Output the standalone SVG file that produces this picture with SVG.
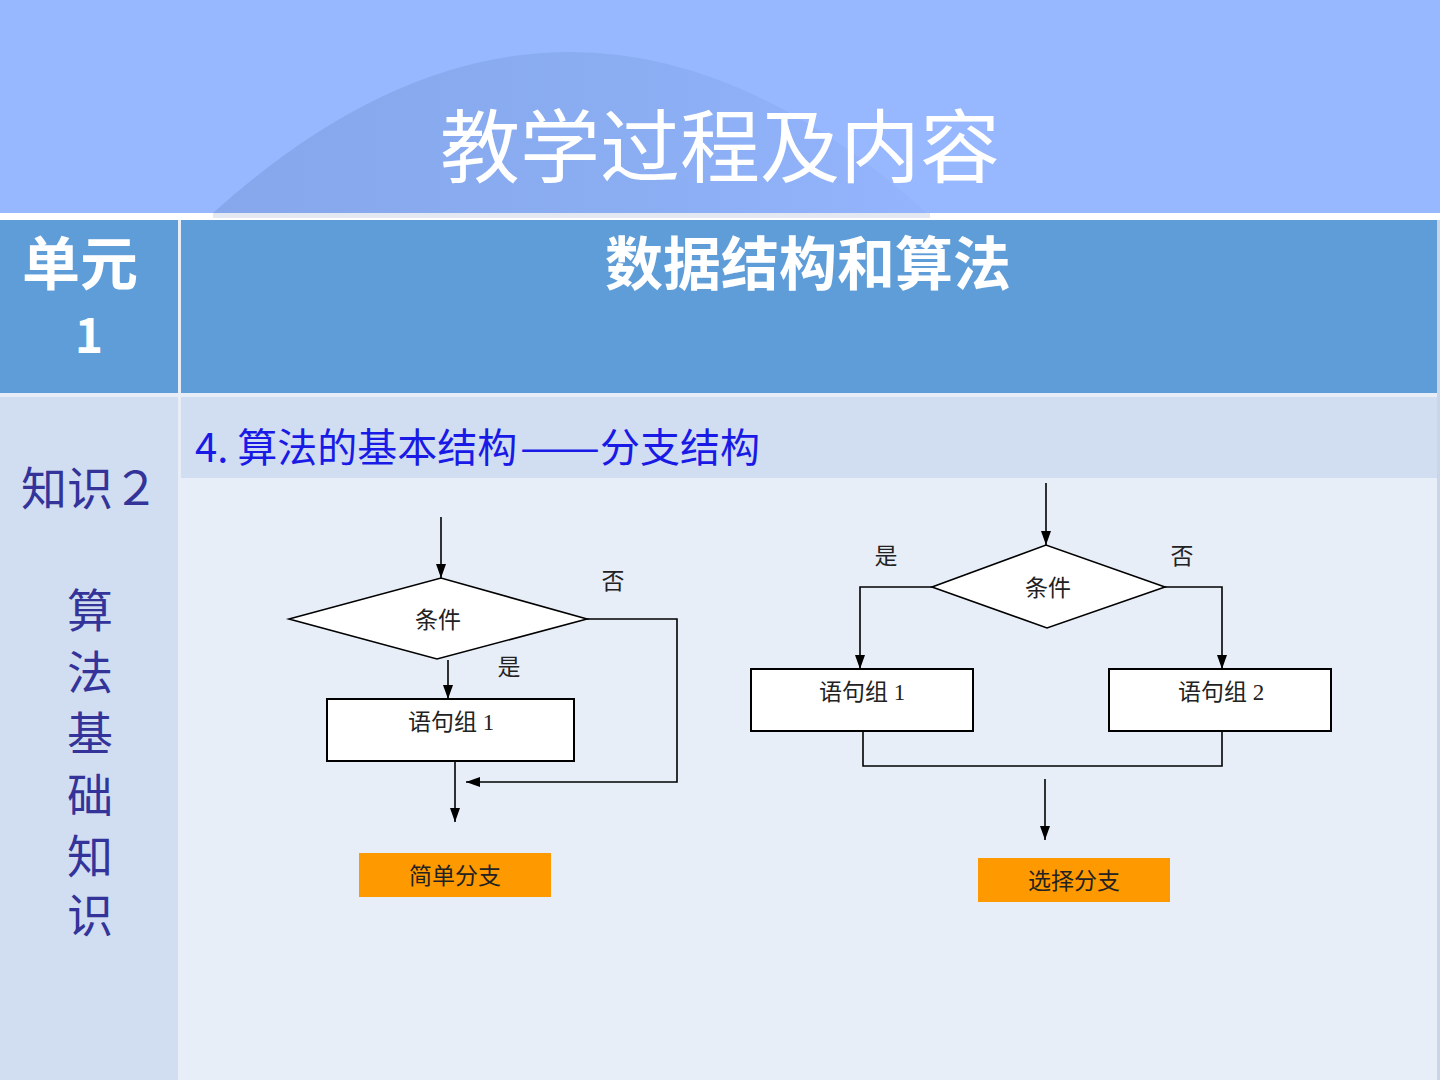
<svg xmlns="http://www.w3.org/2000/svg" width="1440" height="1080" viewBox="0 0 1440 1080">
<style>
.cjk{font-family:"Noto Sans CJK SC","Noto Sans",sans-serif}
.fc{font-family:"Liberation Serif","Noto Sans CJK SC",serif;font-size:23px;fill:#222;text-anchor:middle}
.ln{fill:none;stroke:#000;stroke-width:1.6}
.box{fill:#fff;stroke:#000;stroke-width:2}
.dia{fill:#fff;stroke:#000;stroke-width:1.6}
.org{fill:#FF9900}
.side{font-family:"Noto Sans CJK SC",sans-serif;font-size:46px;fill:#333399;text-anchor:middle}
.sub{font-family:"Noto Sans CJK SC","Noto Sans",sans-serif;font-size:40px;fill:#1A1AE6}
</style>
<defs>
<marker id="ah" viewBox="0 0 14 10" refX="14" refY="5" markerWidth="14" markerHeight="10" markerUnits="userSpaceOnUse" orient="auto">
<path d="M0,0 L14,5 L0,10 Z" fill="#000"/>
</marker>
<linearGradient id="dome" x1="0" y1="0" x2="1" y2="0">
<stop offset="0" stop-color="#86A7EC"/>
<stop offset="0.6" stop-color="#8BADF2"/>
<stop offset="1" stop-color="#94B5FD"/>
</linearGradient>
</defs>

<!-- background -->
<rect x="0" y="0" width="1440" height="1080" fill="#E8EEF8"/>
<rect x="0" y="0" width="1440" height="213" fill="#97B8FF"/>
<path d="M213,213 Q570,-109 927,213 Z" fill="url(#dome)"/>
<rect x="0" y="213" width="1440" height="7" fill="#FFFFFF"/>
<rect x="213" y="213" width="717" height="5" fill="#E4E8F0"/>

<g id="title">
<text x="720" y="176" class="cjk" font-size="80" fill="#FFFFFF" text-anchor="middle">教学过程及内容</text>
</g>

<!-- table -->
<g id="table">
<rect x="0" y="220" width="178" height="173" fill="#5E9DD8"/>
<rect x="181" y="220" width="1259" height="173" fill="#5E9DD8"/>
<rect x="0" y="397" width="178" height="683" fill="#D1DEF1"/>
<rect x="181" y="397" width="1259" height="81" fill="#D1DEF1"/>
<rect x="181" y="480" width="1259" height="600" fill="#E8EEF8"/>
<rect x="1437" y="220" width="3" height="860" fill="#C9D5E8"/>
</g>

<g id="unit">
<text x="80" y="285" class="cjk" font-size="58" font-weight="bold" fill="#FFFFFF" text-anchor="middle">单元</text>
<text x="89" y="353" class="cjk" font-size="48" font-weight="bold" fill="#FFFFFF" text-anchor="middle">1</text>
</g>
<g id="heading">
<text x="808" y="285" class="cjk" font-size="58" font-weight="bold" fill="#FFFFFF" text-anchor="middle">数据结构和算法</text>
</g>
<g id="subheading">
<text x="195" y="462" class="sub">4. 算法的基本结构</text>
<text x="520" y="462" class="sub" textLength="80" lengthAdjust="spacingAndGlyphs">——</text>
<text x="600" y="462" class="sub">分支结构</text>
</g>
<g id="side">
<text x="90" y="505" class="side" font-size="45">知识２</text>
<text class="side"><tspan x="90" y="627">算</tspan><tspan x="90" dy="62">法</tspan><tspan x="90" dy="61">基</tspan><tspan x="90" dy="62">础</tspan><tspan x="90" dy="61">知</tspan><tspan x="90" dy="59">识</tspan></text>
</g>

<!-- left flowchart nodes -->
<g id="cond1">
<polygon class="dia" points="289,619 441,578 587,619 437,659"/>
<text x="438" y="628" class="fc">条件</text>
</g>
<g id="stmt1">
<rect class="box" x="327" y="699" width="247" height="62"/>
<text x="451" y="730" class="fc">语句组 1</text>
</g>
<g id="simple">
<rect class="org" x="359" y="853" width="192" height="44"/>
<text x="455" y="884" class="fc">简单分支</text>
</g>
<g id="lbl1">
<text x="613" y="589" class="fc">否</text>
<text x="509" y="675" class="fc">是</text>
</g>

<!-- right flowchart nodes -->
<g id="cond2">
<polygon class="dia" points="932,587 1046,545 1165,587 1047,628"/>
<text x="1048" y="596" class="fc">条件</text>
</g>
<g id="stmtA">
<rect class="box" x="751" y="669" width="222" height="62"/>
<text x="862" y="700" class="fc">语句组 1</text>
</g>
<g id="stmtB">
<rect class="box" x="1109" y="669" width="222" height="62"/>
<text x="1221" y="700" class="fc">语句组 2</text>
</g>
<g id="select">
<rect class="org" x="978" y="858" width="192" height="44"/>
<text x="1074" y="889" class="fc">选择分支</text>
</g>
<g id="lbl2">
<text x="886" y="564" class="fc">是</text>
<text x="1182" y="564" class="fc">否</text>
</g>

<!-- connectors -->
<g id="connectors">
<line class="ln" x1="441" y1="517" x2="441" y2="578" marker-end="url(#ah)"/>
<line class="ln" x1="448" y1="660" x2="448" y2="699" marker-end="url(#ah)"/>
<polyline class="ln" points="587,619 677,619 677,782 466,782" marker-end="url(#ah)"/>
<line class="ln" x1="455" y1="762" x2="455" y2="822" marker-end="url(#ah)"/>

<line class="ln" x1="1046" y1="483" x2="1046" y2="545" marker-end="url(#ah)"/>
<polyline class="ln" points="932,587 860,587 860,669" marker-end="url(#ah)"/>
<polyline class="ln" points="1165,587 1222,587 1222,669" marker-end="url(#ah)"/>
<polyline class="ln" points="863,731 863,766 1222,766 1222,731"/>
<line class="ln" x1="1045" y1="779" x2="1045" y2="840" marker-end="url(#ah)"/>
</g>
</svg>
